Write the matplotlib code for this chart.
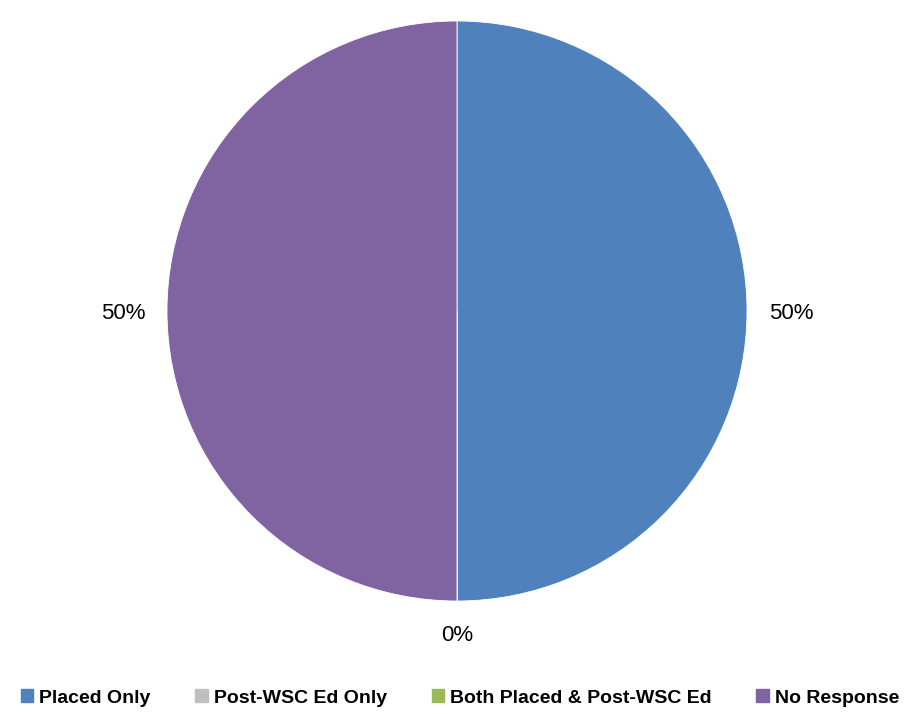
import matplotlib.pyplot as plt
import numpy as np

# 数据
categories = ['Placed Only', 'Post-WSC Ed Only', 'Both Placed & Post-WSC Ed', 'No Response']
values = [50, 0, 0, 50]
colors = ['#4F81BD', '#BFBFBF', '#9BBB59', '#8064A2']

plt.rcParams['font.family'] = ['Liberation Sans', 'DejaVu Sans']

fig = plt.figure(figsize=(9.2, 7.14), dpi=100)
ax = fig.add_axes([167 / 920, (714 - 601) / 714, 580 / 920, 580 / 714])

wedges, _ = ax.pie(values, colors=colors, startangle=90, counterclock=False,
                   radius=1, wedgeprops=dict(edgecolor='white', linewidth=0.6))
ax.set_xlim(-1, 1)
ax.set_ylim(-1, 1)
ax.set_aspect('equal')

# 百分比标签 (重叠的零值标签只画一次)
total = sum(values)
start = 90.0
drawn = set()
for v in values:
    ang = np.deg2rad(start - 360 * v / total / 2)
    start -= 360 * v / total
    x, y = np.cos(ang), np.sin(ang)
    key = (round(x, 3), round(y, 3))
    if key in drawn:
        continue
    drawn.add(key)
    if abs(x) < 1e-6:
        ha = 'center'
        r = 1.11
    else:
        ha = 'left' if x > 0 else 'right'
        r = 1.075
    ax.text(r * x, r * y - 0.01, f'{v / total * 100:.0f}%', ha=ha, va='center', fontsize=16)

# 图例
handles = [plt.Rectangle((0, 0), 1, 1, color=c) for c in colors]
fig.legend(handles, categories, loc='center', bbox_to_anchor=(0.5, 1 - 698 / 714),
           ncol=4, frameon=False, handlelength=0.65, handleheight=0.65, handletextpad=0.3,
           columnspacing=2.3, prop={'weight': 'bold', 'size': 14})

fig.savefig('out.png', dpi=100)
